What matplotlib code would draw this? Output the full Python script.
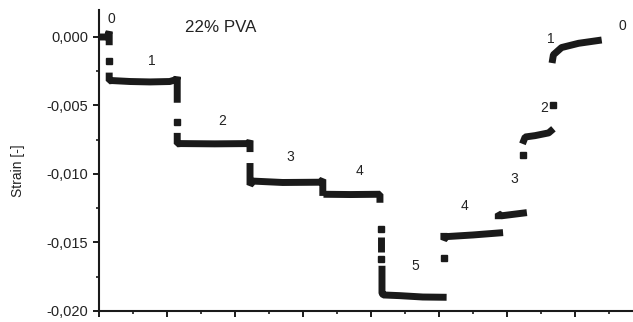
import matplotlib
matplotlib.use("Agg")
import matplotlib.pyplot as plt
from matplotlib.ticker import MultipleLocator, FuncFormatter, NullFormatter

plt.rcParams['font.family'] = ['Liberation Sans', 'DejaVu Sans']

# Creep/recovery steps of the 22% PVA sample (time in arbitrary units, strain [-])
time_0 = [0.0, 1.2, 1.5, 1.5]
strain_0 = [0.0000, 0.0000, 0.0004, -0.0006]

time_1 = [1.5, 1.5, 1.9, 4.6, 7.5, 10.4, 11.4, 11.5, 11.5]
strain_1 = [-0.0026, -0.0032, -0.00318, -0.00325, -0.00328, -0.00325, -0.0031, -0.0029, -0.0048]

time_2 = [11.5, 11.5, 12.0, 17.0, 22.0, 22.2, 22.2]
strain_2 = [-0.0070, -0.0078, -0.00778, -0.0078, -0.00778, -0.00755, -0.0084]

time_3 = [22.2, 22.2, 22.7, 27.0, 32.5, 32.9, 32.9]
strain_3 = [-0.0092, -0.0108, -0.01052, -0.01062, -0.0106, -0.0104, -0.0116]

time_4 = [33.0, 37.0, 41.3, 41.3]
strain_4 = [-0.01148, -0.0115, -0.01148, -0.0121]

time_4b = [41.5, 41.5]
strain_4b = [-0.0146, -0.0157]

time_5 = [41.6, 41.6, 41.8, 44.2, 47.6, 51.1]
strain_5 = [-0.0167, -0.0187, -0.01883, -0.01888, -0.01898, -0.0190]

time_4r = [50.7, 50.7, 51.1, 55.0, 59.4]
strain_4r = [-0.0143, -0.0148, -0.01457, -0.01445, -0.01428]

time_3r = [58.7, 58.7, 59.2, 62.9]
strain_3r = [-0.0133, -0.0129, -0.01305, -0.01282]

time_2r = [62.25, 62.65, 64.1, 66.1, 66.8]
strain_2r = [-0.0078, -0.0073, -0.0072, -0.0070, -0.0067]

time_1r = [66.6, 66.8, 68.0, 70.5, 73.9]
strain_1r = [-0.0019, -0.0013, -0.00077, -0.00046, -0.00022]

# sparse readings recorded during the load changes
jump_time = [1.5, 11.5, 41.5, 41.5, 50.7, 62.4, 66.8]
jump_strain = [-0.00177, -0.00623, -0.0140, -0.0162, -0.0161, -0.00864, -0.0050]

# load step labels
step_labels = ['0', '1', '2', '3', '4', '5', '4', '3', '2', '1', '0']
label_time = [1.87, 7.75, 18.04, 28.09, 38.34, 46.43, 53.78, 60.99, 65.44, 66.37, 76.96]
label_strain = [0.00129, -0.00175, -0.00613, -0.00878, -0.00978, -0.01672,
                -0.01234, -0.01039, -0.0052, -0.00012, 0.0008]

color = '#1a1a1a'

fig = plt.figure(figsize=(6.33, 3.22), dpi=100)
ax = fig.add_axes([0.1564, 0.0342, 0.8436, 0.936])

segments = [(time_0, strain_0), (time_1, strain_1), (time_2, strain_2),
            (time_3, strain_3), (time_4, strain_4), (time_4b, strain_4b),
            (time_5, strain_5), (time_4r, strain_4r), (time_3r, strain_3r),
            (time_2r, strain_2r), (time_1r, strain_1r)]
for t, s in segments:
    ax.plot(t, s, color=color, lw=5.0, solid_capstyle='butt',
            solid_joinstyle='bevel')
ax.plot(jump_time, jump_strain, ls='none', marker='s', ms=4.5,
        color=color, mec=color)

for lab, t, s in zip(step_labels, label_time, label_strain):
    ax.text(t, s, lab, ha='center', va='center', fontsize=10, color='#222222')
ax.text(12.65, 0.00071, '22% PVA', ha='left', va='center', fontsize=12.2,
        color='#222222')

ax.set_xlim(0, 78.5)
ax.set_ylim(-0.020, 0.002)

ax.xaxis.set_major_locator(MultipleLocator(10))
ax.xaxis.set_minor_locator(MultipleLocator(5))
ax.xaxis.set_major_formatter(NullFormatter())
ax.yaxis.set_major_locator(MultipleLocator(0.005))
ax.yaxis.set_minor_locator(MultipleLocator(0.0025))


def comma_fmt(v, pos):
    v = round(v, 6)
    if v == 0:
        v = 0.0
    return f"{v:.3f}".replace('.', ',')


ax.yaxis.set_major_formatter(FuncFormatter(comma_fmt))

for side in ('top', 'right'):
    ax.spines[side].set_visible(False)
for side in ('left', 'bottom'):
    ax.spines[side].set_linewidth(1.5)
    ax.spines[side].set_color(color)

ax.tick_params(which='major', direction='out', length=4.3, width=1.4,
               color=color, labelsize=10.5, pad=3.5, labelcolor='#222222')
ax.tick_params(which='minor', direction='out', length=2.2, width=1.2,
               color=color)

ax.set_ylabel('Strain [-]', fontsize=10, color='#222222')
ax.yaxis.set_label_coords(-0.139, 0.4645)

fig.savefig('out.png', dpi=100)
